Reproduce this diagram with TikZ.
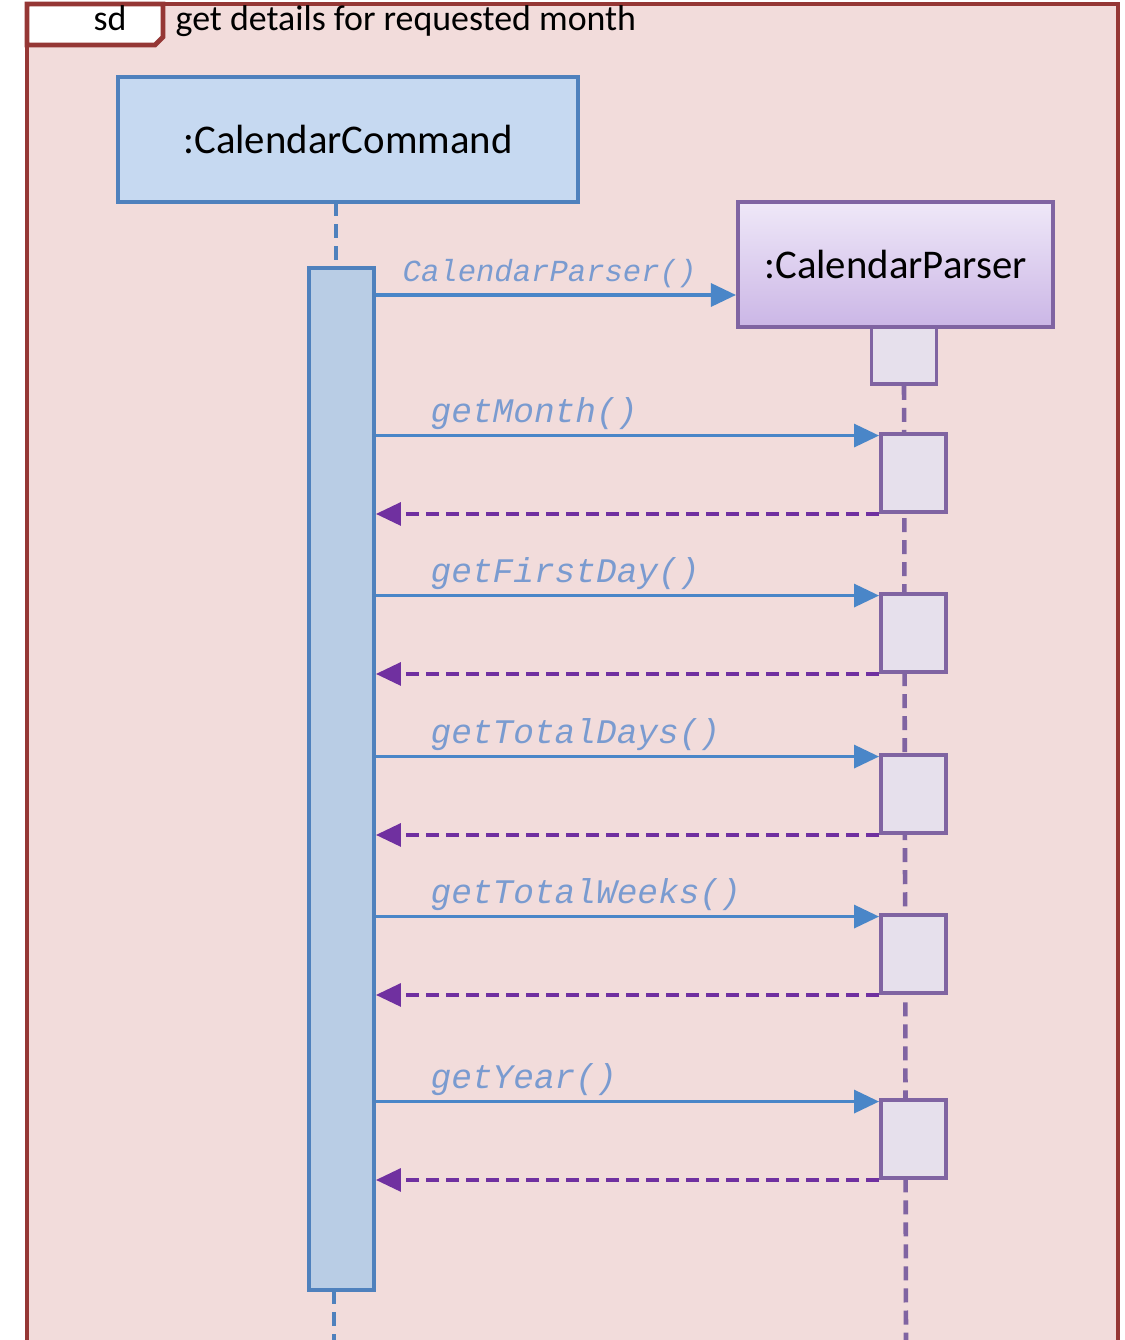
\documentclass[tikz,border=0pt]{standalone}
\usepackage{fontspec}
\setmainfont{Carlito}
\newfontfamily\msgfont{Liberation Mono}
\usetikzlibrary{arrows.meta,positioning,calc}
\definecolor{framered}{HTML}{953735}
\definecolor{framefill}{HTML}{F2DCDB}
\definecolor{cmdfill}{HTML}{C6D9F1}
\definecolor{cmdline}{HTML}{4F81BD}
\definecolor{barfill}{HTML}{B9CDE5}
\definecolor{prsline}{HTML}{8064A2}
\definecolor{prstop}{HTML}{EFE8F8}
\definecolor{prsbottom}{HTML}{CBB6E6}
\definecolor{prsfill}{HTML}{E6E0EC}
\definecolor{msgblue}{HTML}{4A86C8}
\definecolor{msgtext}{HTML}{7A9BD0}
\definecolor{retpurple}{HTML}{7030A0}
\tikzset{
  object/.style={draw, line width=1.1pt, inner sep=0pt, font=\fontsize{11.6}{14}\selectfont},
  cmdbox/.style={object, draw=cmdline, fill=cmdfill, minimum width=4.6cm, minimum height=1.25cm},
  prsbox/.style={object, draw=prsline, top color=prstop, bottom color=prsbottom, minimum width=3.15cm, minimum height=1.25cm},
  cmdact/.style={draw=cmdline, fill=barfill, line width=1.1pt, inner sep=0pt},
  act/.style={draw=prsline, fill=prsfill, line width=1.1pt, inner sep=0pt, minimum width=0.65cm, minimum height=0.78cm},
  call/.style={msgblue, line width=0.9pt, -{Triangle[length=0.25cm,width=0.23cm]}},
  reply/.style={retpurple, line width=0.9pt, dash pattern=on 0.13cm off 0.07cm, -{Triangle[length=0.25cm,width=0.23cm]}},
  lifeline/.style={line width=1.3pt, dash pattern=on 0.14cm off 0.08cm},
  msglabel/.style={anchor=base west, inner sep=0pt, text=msgtext, font=\fontsize{9.8}{12}\msgfont\itshape},
}

\begin{document}
\begin{tikzpicture}[x=0.01cm, y=-0.01cm]
		%%%%% START %%%%%
		\useasboundingbox (0,0) rectangle (1125,1340);
		\clip (0,0) rectangle (1125,1340);
		
		% frame
		\draw[framered, fill=framefill, line width=1.4pt] (27,1400) -- (27,4) -- (1118,4) -- (1118,1400);
		\draw[framered, fill=white, line width=1.4pt] (27,4) -- (163,4) -- (163,37) -- (155,45) -- (27,45) -- cycle;
		\node[anchor=base, font=\fontsize{10.2}{12}\selectfont] (sd) at (110,31) {sd};
		\node[anchor=base west, inner sep=0pt, font=\fontsize{10.2}{12}\selectfont] (title) at (175,31) {get details for requested month};
		
		% objects
		\node[cmdbox] (cmd) at (348,139.5) {:CalendarCommand};
		\node[prsbox] (prs) at (895.5,264.5) {:CalendarParser};
		
		% lifelines
		\coordinate (cmdtop) at (336,202);
		\coordinate (cmdend) at (334,1345);
		\draw[lifeline, cmdline] (cmdtop) -- (336,268);
		\draw[lifeline, cmdline] (334,1290) -- (cmdend);
		\node[prsline, act, minimum height=0.57cm] (prsinit) at (904,355.5) {};
		\coordinate (prsend) at (906,1345);
		\draw[lifeline, prsline] (prsinit.south) -- (prsend);
		
		\node[cmdact, minimum width=0.65cm, minimum height=10.22cm] (cmdbar) at (341.5,779) {};
		
		% constructor
		\draw[call] (cmdbar.east |- 0,295) coordinate (newstart) -- (prs.west |- newstart);
		\node[msglabel, font=\fontsize{8.7}{11}\msgfont\itshape] (newlab) at (402,282) {CalendarParser()};
		
		% calls and replies
		\foreach \lab/\yc [count=\i] in {{getMonth()}/473, {getFirstDay()}/633, {getTotalDays()}/794, {getTotalWeeks()}/954, {getYear()}/1139} {
			\node[act] (act\i) at (913.5,\yc) {};
			\coordinate (hit\i) at ([yshift=-1pt]act\i.north west);
			\draw[call] (cmdbar.east |- hit\i) coordinate (callstart\i) -- (hit\i);
			\node[msglabel] (lab\i) at ($(callstart\i)+(54,-13)$) {\lab};
			\draw[reply] (act\i.south west) -- (cmdbar.east |- act\i.south west);
		}
		
		%%%%% END %%%%%
\end{tikzpicture}
\end{document}
